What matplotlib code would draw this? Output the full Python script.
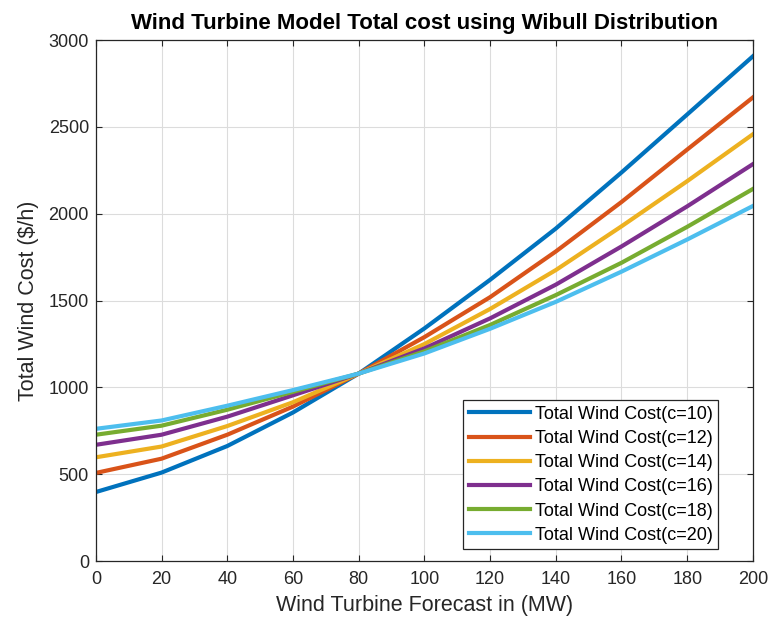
import numpy as np
import matplotlib
matplotlib.use('Agg')
import matplotlib.pyplot as plt

# wind forecast (MW)
forecast = [0, 20, 40, 60, 80, 100, 120, 140, 160, 180, 200]

# total wind cost ($/h) for each weibull scale c
cost_c10 = [398, 510, 663, 856, 1080, 1340, 1620, 1915, 2238, 2572, 2907]
cost_c12 = [508, 590, 728, 890, 1080, 1290, 1520, 1783, 2068, 2370, 2670]
cost_c14 = [598, 660, 778, 915, 1080, 1250, 1452, 1676, 1928, 2188, 2458]
cost_c16 = [670, 728, 832, 955, 1080, 1225, 1398, 1592, 1812, 2043, 2286]
cost_c18 = [728, 780, 872, 975, 1080, 1208, 1360, 1532, 1718, 1925, 2143]
cost_c20 = [762, 810, 895, 985, 1080, 1196, 1338, 1493, 1667, 1852, 2045]

labels = ['Total Wind Cost(c=10)', 'Total Wind Cost(c=12)', 'Total Wind Cost(c=14)',
          'Total Wind Cost(c=16)', 'Total Wind Cost(c=18)', 'Total Wind Cost(c=20)']

plt.rcParams['font.family'] = ['Liberation Sans', 'DejaVu Sans']

colors = ['#0072BD', '#D95319', '#EDB120', '#7E2F8E', '#77AC30', '#4DBEEE']

fig = plt.figure(figsize=(7.73, 6.27), dpi=100)
ax = fig.add_axes([0.124, 0.105, 0.850, 0.831])

series = [cost_c10, cost_c12, cost_c14, cost_c16, cost_c18, cost_c20]
for ys, col, lab in zip(series, colors, labels):
    ax.plot(forecast, ys, color=col, lw=3, label=lab)

ax.set_xlim(0, 200)
ax.set_ylim(0, 3000)
ax.set_xticks(np.arange(0, 201, 20))
ax.set_yticks(np.arange(0, 3001, 500))
ax.grid(True, color='#dcdcdc', lw=0.8)
ax.set_axisbelow(True)
ax.tick_params(direction='in', top=True, right=True, labelsize=13,
               colors='#262626', length=4, pad=5)
ax.tick_params(axis='x', pad=7)
for sp in ax.spines.values():
    sp.set_color('#262626')
    sp.set_linewidth(0.9)

ax.set_xlabel('Wind Turbine Forecast in (MW)', fontsize=15.5, color='#262626',
              labelpad=5)
ax.set_ylabel('Total Wind Cost ($/h)', fontsize=15.5, color='#262626',
              labelpad=7)
ax.set_title('Wind Turbine Model Total cost using Wibull Distribution',
             fontsize=16, fontweight='bold', pad=8)

leg = ax.legend(loc='lower right', bbox_to_anchor=(0.947, 0.023),
                fontsize=13, fancybox=False, framealpha=1,
                edgecolor='#262626', borderpad=0.3, labelspacing=0.4,
                handlelength=3.4, handletextpad=0.25, borderaxespad=0)
leg.get_frame().set_linewidth(0.9)

fig.savefig('out.png', dpi=100)
